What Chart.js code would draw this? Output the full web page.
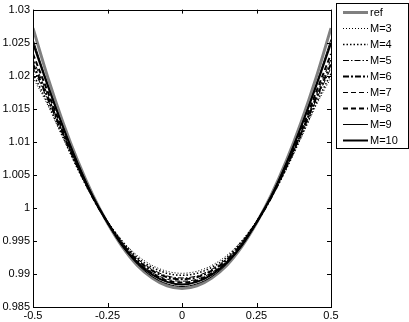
<!DOCTYPE html>
<html>
<head>
<meta charset="utf-8">
<script src="https://cdn.jsdelivr.net/npm/chart.js@4.4.0/dist/chart.umd.min.js"></script>
<style>
html,body{margin:0;padding:0;background:#fff;}
</style>
</head>
<body>
<canvas id="grafica" width="409" height="322"></canvas>
<script>
var xs = [-0.5,-0.45,-0.4,-0.35,-0.3,-0.25,-0.2,-0.15,-0.1,-0.05,0,0.05,0.1,0.15,0.2,0.25,0.3,0.35,0.4,0.45,0.5];
var etiquetas = ["ref","M=3","M=4","M=5","M=6","M=7","M=8","M=9","M=10"];
var xTicks = [-0.5,-0.25,0,0.25,0.5];

var ref = [1.0272,1.0197,1.0130,1.0071,1.0020,0.9977,0.9941,0.9913,0.9894,0.9882,0.9878,0.9882,0.9894,0.9913,0.9941,0.9977,1.0020,1.0071,1.0130,1.0197,1.0272];
var m3  = [1.0197,1.0155,1.0106,1.0059,1.0016,0.9980,0.9950,0.9928,0.9913,0.9904,0.9901,0.9904,0.9913,0.9928,0.9950,0.9980,1.0016,1.0059,1.0106,1.0155,1.0197];
var m4  = [1.0203,1.0158,1.0108,1.0059,1.0016,0.9979,0.9949,0.9925,0.9910,0.9901,0.9898,0.9901,0.9910,0.9925,0.9949,0.9979,1.0016,1.0059,1.0108,1.0158,1.0203];
var m5  = [1.0212,1.0163,1.0111,1.0061,1.0016,0.9979,0.9947,0.9923,0.9907,0.9897,0.9894,0.9897,0.9907,0.9923,0.9947,0.9979,1.0016,1.0061,1.0111,1.0163,1.0212];
var m6  = [1.0218,1.0166,1.0113,1.0062,1.0016,0.9978,0.9946,0.9921,0.9905,0.9895,0.9892,0.9895,0.9905,0.9921,0.9946,0.9978,1.0016,1.0062,1.0113,1.0166,1.0218];
var m7  = [1.0225,1.0170,1.0114,1.0063,1.0017,0.9978,0.9945,0.9919,0.9902,0.9892,0.9889,0.9892,0.9902,0.9919,0.9945,0.9978,1.0017,1.0063,1.0114,1.0170,1.0225];
var m8  = [1.0233,1.0175,1.0117,1.0064,1.0017,0.9978,0.9944,0.9918,0.9901,0.9890,0.9887,0.9890,0.9901,0.9918,0.9944,0.9978,1.0017,1.0064,1.0117,1.0175,1.0233];
var m9  = [1.0255,1.0187,1.0124,1.0068,1.0019,0.9977,0.9942,0.9915,0.9896,0.9885,0.9881,0.9885,0.9896,0.9915,0.9942,0.9977,1.0019,1.0068,1.0124,1.0187,1.0255];
var m10 = [1.0249,1.0184,1.0123,1.0067,1.0018,0.9978,0.9943,0.9917,0.9899,0.9888,0.9884,0.9888,0.9899,0.9917,0.9943,0.9978,1.0018,1.0067,1.0123,1.0184,1.0249];

var series = [ref,m3,m4,m5,m6,m7,m8,m9,m10];
var colores = ["#808080","#000","#000","#000","#000","#000","#000","#000","#000"];
var anchos = [3,1,1.6,1,2,1,2,1,2];
var guiones = [[],[1,2],[1.5,2],[6,2,1.5,2],[6,2,2,2],[5,3],[5,3],[],[]];

function puntos(ys){
    var p = [];
    for (var i = 0; i < xs.length; i++) p.push({x: xs[i], y: ys[i]});
    return p;
}

var datasets = [];
for (var k = 0; k < series.length; k++) {
    datasets.push({
        label: etiquetas[k],
        data: puntos(series[k]),
        borderColor: colores[k],
        borderWidth: anchos[k],
        borderDash: guiones[k],
        pointRadius: 0,
        cubicInterpolationMode: 'monotone',
        order: series.length - k
    });
}

// caja, marcas hacia dentro y leyenda al estilo matlab
var marco = {
    id: 'marco',
    afterDraw: function(chart) {
        var c = chart.ctx, a = chart.chartArea;
        var sx = chart.scales.x, sy = chart.scales.y;
        c.save();
        c.strokeStyle = "#000";
        c.lineWidth = 1;
        c.setLineDash([]);
        c.strokeRect(Math.round(a.left) + 0.5, Math.round(a.top) + 0.5, Math.round(a.right - a.left), Math.round(a.bottom - a.top));
        c.beginPath();
        sx.ticks.forEach(function(t){
            var px = Math.round(sx.getPixelForValue(t.value)) + 0.5;
            c.moveTo(px, a.bottom); c.lineTo(px, a.bottom - 4);
            c.moveTo(px, a.top); c.lineTo(px, a.top + 4);
        });
        sy.ticks.forEach(function(t){
            var py = Math.round(sy.getPixelForValue(t.value)) + 0.5;
            c.moveTo(a.left, py); c.lineTo(a.left + 4, py);
            c.moveTo(a.right, py); c.lineTo(a.right - 4, py);
        });
        c.stroke();

        // leyenda
        var bx = 336, by = 3, bw = 72, bh = 145, fila = 16;
        c.fillStyle = "#fff";
        c.fillRect(bx, by, bw, bh);
        c.strokeRect(bx + 0.5, by + 0.5, bw, bh);
        c.font = "11px 'Liberation Sans', Arial, sans-serif";
        c.textBaseline = "middle";
        c.textAlign = "left";
        chart.data.datasets.forEach(function(ds, i){
            var y = by + 9 + i * fila;
            c.beginPath();
            c.strokeStyle = ds.borderColor;
            c.lineWidth = ds.borderWidth;
            c.setLineDash(ds.borderDash);
            c.moveTo(343, y + 0.5); c.lineTo(368, y + 0.5);
            c.stroke();
            c.setLineDash([]);
            c.fillStyle = "#000";
            c.fillText(ds.label, 370, y + 1);
        });
        c.restore();
    }
};

var ctx = document.getElementById("grafica").getContext('2d');
var grafica = new Chart(ctx, {
    type: 'line',
    data: { datasets: datasets },
    options: {
        responsive: false,
        animation: false,
        layout: { padding: { top: 8, right: 78, bottom: 0, left: 0 } },
        plugins: { legend: { display: false }, tooltip: { enabled: false } },
        scales: {
            x: {
                type: 'linear',
                min: -0.5, max: 0.5,
                afterBuildTicks: function(s){ s.ticks = xTicks.map(function(v){ return {value: v}; }); },
                afterFit: function(s){ s.height = 15; },
                grid: { display: false, drawTicks: false },
                border: { display: false },
                ticks: {
                    color: "#000", padding: 2,
                    font: { family: "'Liberation Sans', Arial, sans-serif", size: 11 },
                    maxRotation: 0,
                    callback: function(v){ return String(v); }
                }
            },
            y: {
                min: 0.985, max: 1.03,
                ticks: {
                    stepSize: 0.005, color: "#000", padding: 3,
                    font: { family: "'Liberation Sans', Arial, sans-serif", size: 11 },
                    callback: function(v){ return String(Math.round(v * 1000) / 1000); }
                },
                afterFit: function(s){ s.width = 33; },
                grid: { display: false, drawTicks: false },
                border: { display: false }
            }
        }
    },
    plugins: [marco]
});
</script>
</body>
</html>
